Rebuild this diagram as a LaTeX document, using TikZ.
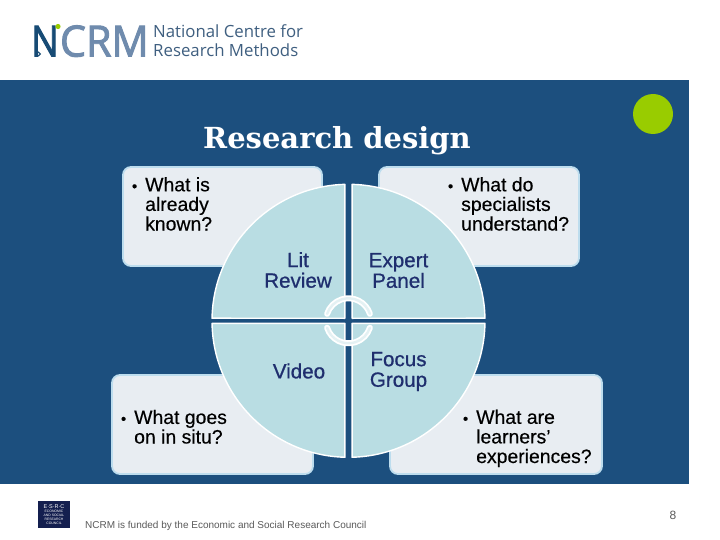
\documentclass[tikz,border=0pt]{standalone}
\usepackage{fontspec}
\setmainfont{Liberation Sans}
\newfontfamily\medfont[FakeBold=0.35]{Liberation Sans}
\newfontfamily\labelfont[FakeBold=0.8]{Liberation Sans}
\newfontfamily\titlefont{DejaVu Serif}
\newfontfamily\logofont{Open Sans}
\newfontfamily\logoheavy[FakeBold=2.2]{Open Sans}
\definecolor{panelblue}{HTML}{1C4F7E}
\definecolor{boxfill}{HTML}{E8EDF2}
\definecolor{boxline}{HTML}{BDDDEE}
\definecolor{quadfill}{HTML}{B9DDE3}
\definecolor{ringfill}{HTML}{E4F1F3}
\definecolor{navytext}{HTML}{1F2E6E}
\definecolor{leafgreen}{HTML}{99CC00}
\definecolor{logoblue}{HTML}{174B75}
\definecolor{logogrey}{HTML}{6F8BAD}
\definecolor{logotext}{HTML}{3F5F80}
\definecolor{esrcnavy}{HTML}{141F4F}
\definecolor{footgrey}{HTML}{5A5A5A}
\tikzset{
  qbox/.style={fill=boxfill,draw=boxline,line width=1.8pt,rounded corners=8pt},
  qtext/.style={anchor=base west,align=left,inner sep=0pt,text=black,font=\medfont\fontsize{19.4}{19.6}\selectfont},
  quad/.style={fill=quadfill,draw=white,line width=1.4pt,line join=round},
  qlabel/.style={align=center,inner sep=0pt,text=navytext,font=\labelfont\fontsize{20.6}{20.6}\selectfont},
  ringout/.style={draw=white,line width=6pt,line cap=round},
  ringin/.style={draw=ringfill,line width=2.4pt,line cap=round},
}
\newcommand{\qbul}{\llap{\fontsize{15}{15}\selectfont•\hspace{8pt}}}
\begin{document}
\begin{tikzpicture}[x=1pt,y=-1pt]
\useasboundingbox (0,0) rectangle (720,540);
\fill[white] (0,0) rectangle (720,540);
\fill[panelblue] (0,80) rectangle (689,484);
% logo
\node[anchor=base west,inner sep=0pt,xscale=.85,text=logoblue,font=\logoheavy\fontsize{43}{43}\selectfont] (logoN) at (31,56.5) {N};
\node[anchor=base east,inner sep=0pt,xscale=.96,text=logogrey,font=\logoheavy\fontsize{43}{43}\selectfont] (logoC) at (149,56.5) {CRM};
\fill[leafgreen] (58,26.5) circle (2.6);
\draw[logoblue,line width=1pt] (38.5,54) circle (1.8);
\node[anchor=base west,inner sep=0pt,text=logotext,font=\logofont\fontsize{16.8}{19}\selectfont,align=left] (logotxt) at (153,56.5) {National Centre for\\Research Methods};
% title
\node[inner sep=0pt,text=white,font=\titlefont\bfseries\fontsize{29}{32}\selectfont] (title) at (337,141) {Research design};
\fill[leafgreen] (653,114) circle (20);
% boxes
\draw[qbox] (123,167) rectangle (322,266);
\draw[qbox] (379,167) rectangle (579,266);
\draw[qbox] (112,375) rectangle (313,474);
\draw[qbox] (390,375) rectangle (602,474);
\node[qtext] (tl) at (145,230.5) {\qbul What is\\already\\known?};
\node[qtext] (tr) at (461,230.5) {\qbul What do\\specialists\\understand?};
\node[qtext] (bl) at (134,443.5) {\qbul What goes\\on in situ?};
\node[qtext] (br) at (476,463) {\qbul What are\\learners’\\experiences?};
% quadrants
\begin{scope}[shift={(348.5,320.8)},y=1pt]
\draw[quad] (-3.6,2.5) -- (91.5:136.5) arc[start angle=91.5,end angle=178.9,radius=136.5] -- cycle;
\draw[quad] (3.6,2.5) -- (88.5:136.5) arc[start angle=88.5,end angle=1.1,radius=136.5] -- cycle;
\draw[quad] (-3.6,-2.5) -- (-91.5:136.5) arc[start angle=-91.5,end angle=-178.9,radius=136.5] -- cycle;
\draw[quad] (3.6,-2.5) -- (-88.5:136.5) arc[start angle=-88.5,end angle=-1.1,radius=136.5] -- cycle;
\draw[ringout] (18:22.5) arc[start angle=18,end angle=162,radius=22.5];
\draw[ringout] (198:22.5) arc[start angle=198,end angle=342,radius=22.5];
\draw[ringin] (18:22.5) arc[start angle=18,end angle=162,radius=22.5];
\draw[ringin] (198:22.5) arc[start angle=198,end angle=342,radius=22.5];
\end{scope}
\node[qlabel] (lit) at (298,270) {Lit\\Review};
\node[qlabel] (exp) at (398.5,270.5) {Expert\\Panel};
\node[qlabel] (vid) at (299,371) {Video};
\node[qlabel] (foc) at (398.5,371.5) {Focus\\Group};
% footer
\fill[esrcnavy] (38,501) rectangle (70,528);
\node[inner sep=0pt,text=white,align=center,font=\fontsize{3.4}{3.9}\selectfont] (esrc) at (54,514.5) {{\fontsize{5.5}{6}\selectfont E·S·R·C}\\ECONOMIC\\AND SOCIAL\\RESEARCH\\COUNCIL};
\node[anchor=base west,inner sep=0pt,text=footgrey,font=\fontsize{10}{11}\selectfont] (fund) at (85,528) {NCRM is funded by the Economic and Social Research Council};
\node[inner sep=0pt,text=footgrey,font=\fontsize{12}{14}\selectfont] (page) at (673,515.5) {8};
\end{tikzpicture}
\end{document}
